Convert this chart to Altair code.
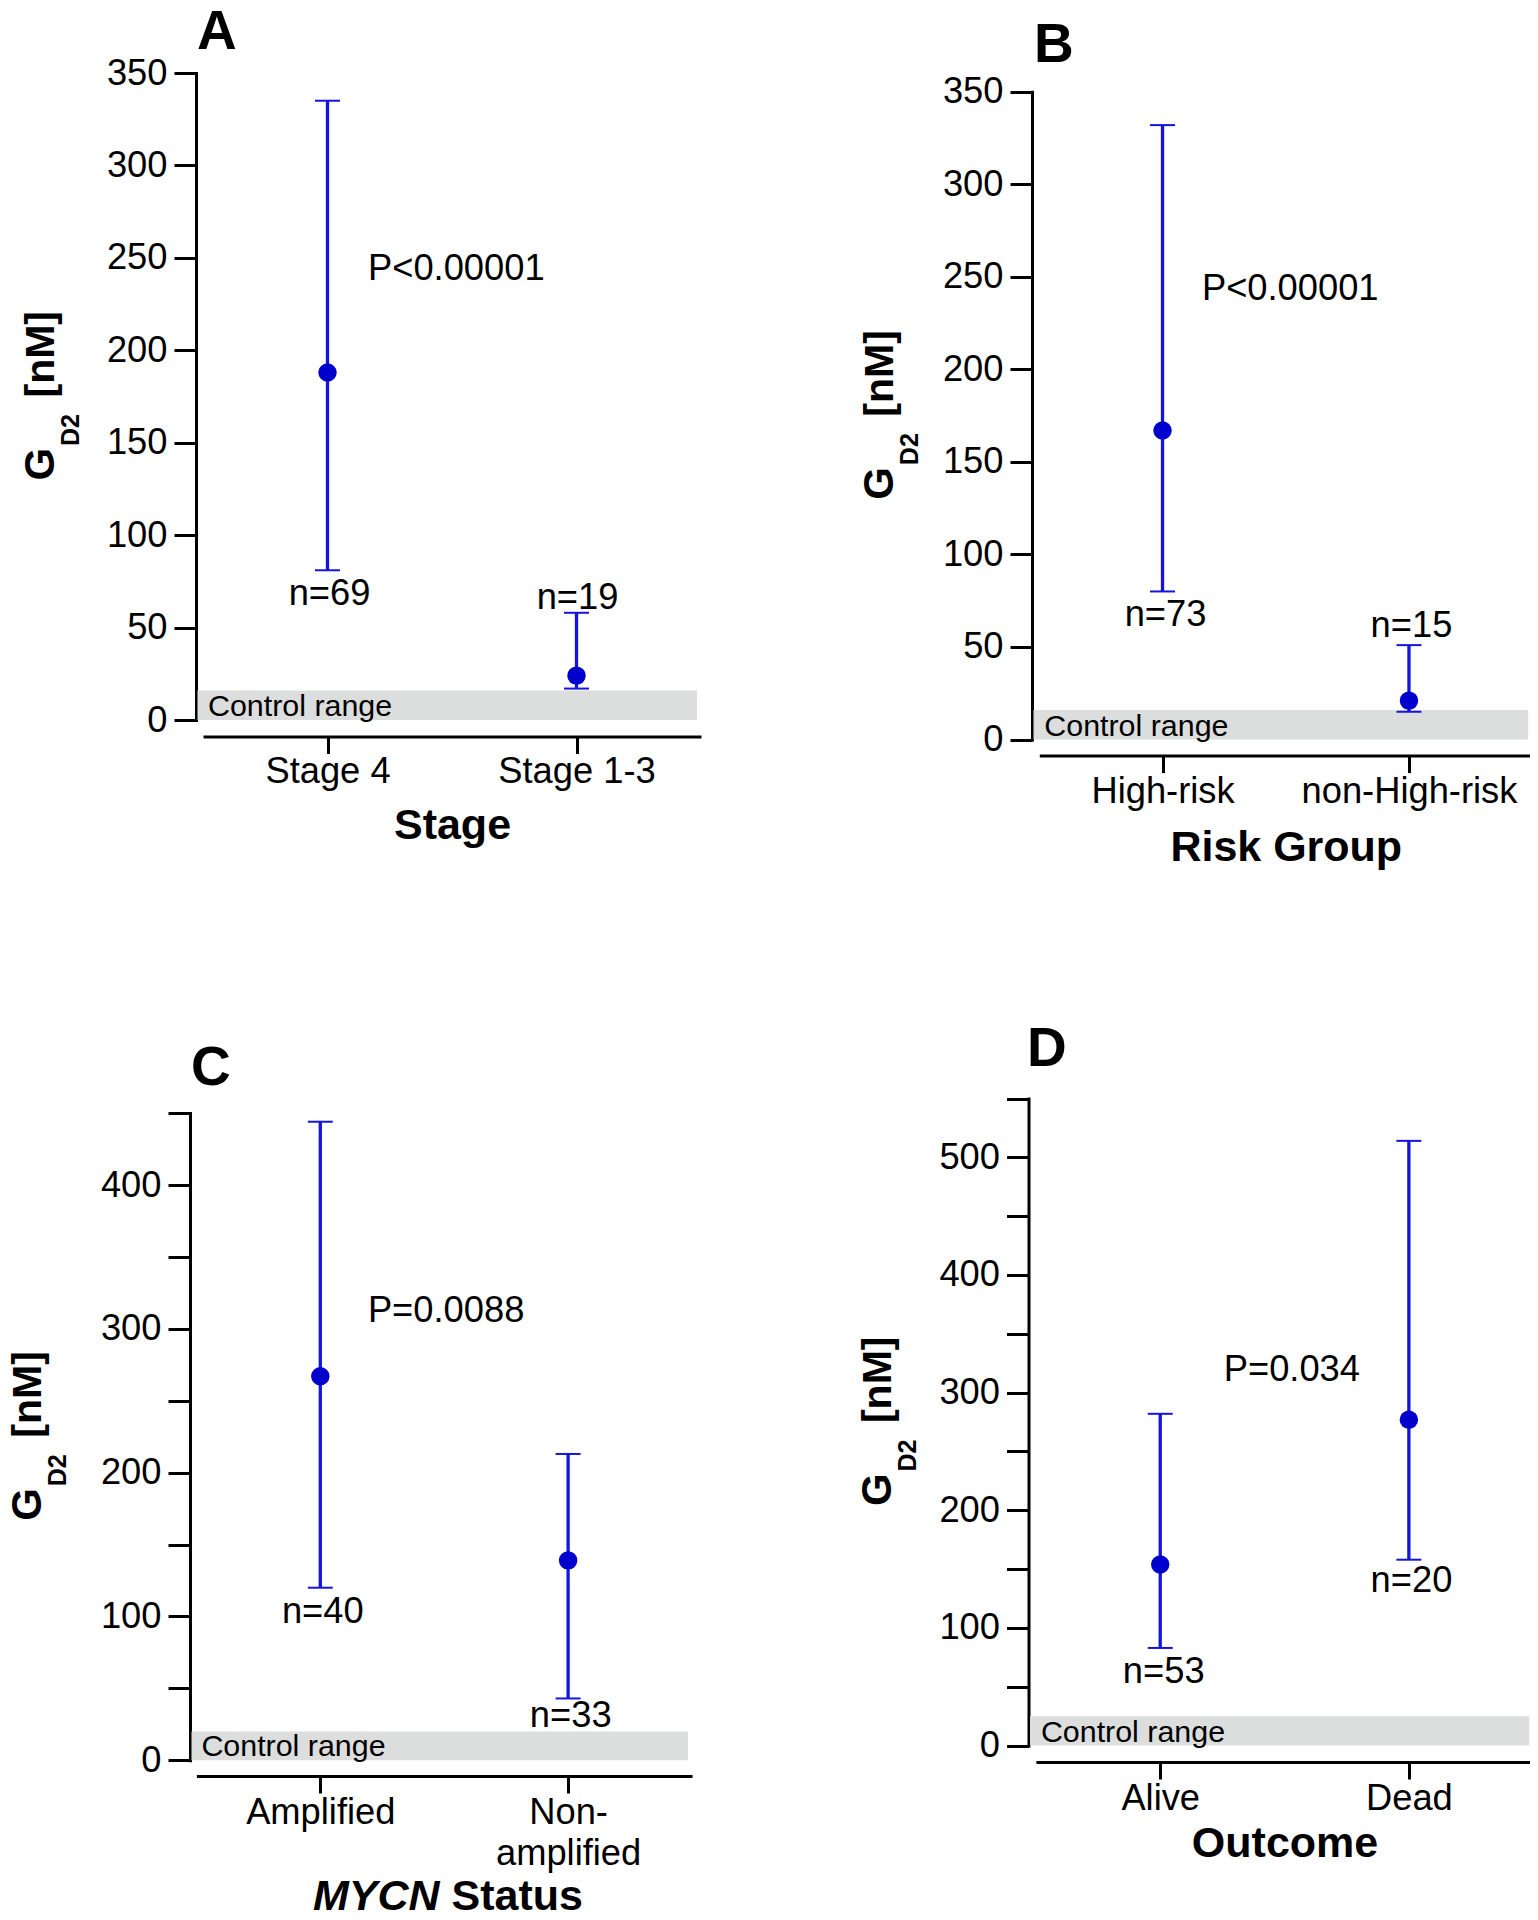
import altair as alt
import pandas as pd

FONT = "Liberation Sans"
LINE_BLUE = "#1414dc"
DOT_BLUE = "#0000cd"
BAND_GREY = "#dcdddd"

# ---------------- data ----------------
# Panel A - Stage
a_cats = ["Stage 4", "Stage 1-3"]
a_mean = [188, 24]
a_low = [81, 17]
a_high = [335, 58]
a_n = ["n=69", "n=19"]
a_n_y = [62, 60]
a_p = "P<0.00001"
a_p_y = 238
a_ctrl = 16

# Panel B - Risk group
b_cats = ["High-risk", "non-High-risk"]
b_mean = [167, 21]
b_low = [80, 15]
b_high = [332, 51]
b_n = ["n=73", "n=15"]
b_n_y = [61.6, 55.5]
b_p = "P<0.00001"
b_p_y = 237.7
b_ctrl = 16

# Panel C - MYCN status
c_cats = ["Amplified", "Non-amplified"]
c_mean = [267, 139]
c_low = [120, 43]
c_high = [444, 213]
c_n = ["n=40", "n=33"]
c_n_y = [95.8, 23.3]
c_p = "P=0.0088"
c_p_y = 305
c_ctrl = 20

# Panel D - Outcome
d_cats = ["Alive", "Dead"]
d_mean = [154, 277]
d_low = [83, 158]
d_high = [282, 514]
d_n = ["n=53", "n=20"]
d_n_y = [53.3, 130.6]
d_p = "P=0.034"
d_p_y = 310
d_ctrl = 25

# ---------------- layout (pixels) ----------------
W, H = 1522, 1904
FS = 36.3      # tick labels and annotations
TFS = 43       # axis titles

LAY = {
    "A": dict(ax=188, px0=195, px1=693, y0=712, ytop=65, xaxis=728.5, ymax=350,
              lp=0, ty=101.5, letter=(189, 41), tb=46, pdx=40.5, ndx=[2, 1]),
    "B": dict(ax=1024, px0=1031.3, px1=1524.2, y0=731.5, ytop=83.8, xaxis=747.6, ymax=350,
              lp=1, ty=105, letter=(1026, 54), tb=885.3, pdx=39.4, ndx=[3, 2.5]),
    "C": dict(ax=182, px0=188.4, px1=684, y0=1752.3, ytop=1105.1, xaxis=1768, ymax=450,
              lp=1, ty=None, letter=(183, 1077), tb=33, pdx=47.6, ndx=[2.5, 2.6]),
    "D": dict(ax=1020.5, px0=1027.9, px1=1525.2, y0=1737.6, ytop=1090.5, xaxis=1754, ymax=550,
              lp=1, ty=94.7, letter=(1019, 1057.6), tb=882.6, pdx=63.5, ndx=[3.5, 2.6]),
}


def one_row():
    return pd.DataFrame({"k": [0]})


def panel(key, cats, mean, low, high, ns, n_y, ptxt, p_y, ctrl, xtitle):
    L = LAY[key]
    df = pd.DataFrame({"cat": cats, "mean": mean, "low": low, "high": high})
    xs = alt.Scale(type="point", domain=cats, range=[L["px0"], L["px1"]], padding=0.5)
    ys = alt.Scale(domain=[0, L["ymax"]], range=[L["y0"], L["ytop"]], nice=False, zero=False)

    ylab = "datum.value % 100 === 0 ? datum.label : ''" if L["ymax"] > 400 else "datum.label"
    yaxis = alt.Axis(orient="left", offset=-L["ax"], values=list(range(0, L["ymax"] + 1, 50)),
                     labelExpr=ylab, tickSize=22, tickWidth=3, tickColor="black",
                     domainWidth=3, domainColor="black", labelFontSize=FS, labelFont=FONT,
                     labelColor="black", labelPadding=7, title=None, grid=False, domainCap="square")
    xkw = dict(orient="bottom", offset=L["xaxis"] - H, tickSize=17, tickWidth=3, tickColor="black",
               domainWidth=3, domainColor="black", labelFontSize=FS, labelFont=FONT,
               labelColor="black", labelPadding=L["lp"], labelAngle=0, grid=False,
               labelBaseline="top", labelLimit=600)
    if xtitle is None:
        xkw.update(title=None, labelLineHeight=41.6,
                   labelExpr="datum.value == 'Non-amplified' ? ['Non-', 'amplified'] : datum.label")
    else:
        xkw.update(title=xtitle, titleFontSize=TFS, titleFont=FONT, titleFontWeight="bold",
                   titleColor="black", titleY=L["ty"], titleBaseline="alphabetic")
    xaxis = alt.Axis(**xkw)

    X = alt.X("cat:N", scale=xs, axis=xaxis)
    base = alt.Chart(df)

    band_df = pd.DataFrame({"lo": [0], "hi": [ctrl]})
    band = alt.Chart(band_df).mark_rect(color=BAND_GREY).encode(
        x=alt.value(L["ax"] + 1.5), x2=alt.value(L["px1"] - 4),
        y=alt.Y("lo:Q", scale=ys, axis=yaxis), y2="hi:Q")
    band_txt = alt.Chart(band_df).mark_text(
        text="Control range", align="left", baseline="alphabetic", fontSize=30.4, font=FONT,
        color="black", dy=-4).encode(
        x=alt.value(L["px0"] + 5), y=alt.Y("lo:Q", scale=ys, axis=yaxis))

    rule = base.mark_rule(color=LINE_BLUE, strokeWidth=3.3).encode(
        x=X, y=alt.Y("low:Q", scale=ys, axis=yaxis), y2="high:Q")
    cap_lo = base.mark_tick(color=LINE_BLUE, orient="horizontal", size=25, thickness=2, opacity=1).encode(
        x=X, y=alt.Y("low:Q", scale=ys, axis=yaxis))
    cap_hi = base.mark_tick(color=LINE_BLUE, orient="horizontal", size=25, thickness=2, opacity=1).encode(
        x=X, y=alt.Y("high:Q", scale=ys, axis=yaxis))
    dots = base.mark_circle(color=DOT_BLUE, size=340, opacity=1).encode(
        x=X, y=alt.Y("mean:Q", scale=ys, axis=yaxis))

    layers = [band, band_txt, rule, cap_lo, cap_hi, dots]

    # n labels
    for i in range(2):
        ndf = pd.DataFrame({"cat": [cats[i]], "y": [n_y[i]], "t": [ns[i]]})
        layers.append(alt.Chart(ndf).mark_text(
            align="center", baseline="alphabetic", fontSize=FS, font=FONT, color="black",
            dx=L["ndx"][i]).encode(x=X, y=alt.Y("y:Q", scale=ys, axis=yaxis), text="t:N"))
    # P value
    pdf = pd.DataFrame({"cat": [cats[0]], "y": [p_y], "t": [ptxt]})
    layers.append(alt.Chart(pdf).mark_text(
        align="left", baseline="alphabetic", fontSize=FS, font=FONT, color="black",
        dx=L["pdx"]).encode(x=X, y=alt.Y("y:Q", scale=ys, axis=yaxis), text="t:N"))

    # y axis title: G_D2 [nM]
    cy = (L["y0"] + L["ytop"]) / 2
    tb = L["tb"]
    for txt, fs, xx, off in [("G", 42, tb, 84), ("D2", 25, tb + 25, 49.5), ("[nM]", 41, tb, 1)]:
        layers.append(alt.Chart(one_row()).mark_text(
            text=txt, angle=270, align="left", baseline="alphabetic", fontSize=fs, font=FONT,
            fontWeight="bold", color="black").encode(x=alt.value(xx), y=alt.value(cy + off)))

    # panel letter
    lx, ly = L["letter"]
    layers.append(alt.Chart(one_row()).mark_text(
        text=key, align="left", baseline="alphabetic", fontSize=55, font=FONT,
        fontWeight="bold", color="black").encode(x=alt.value(lx), y=alt.value(ly)))

    if xtitle is None:
        # "MYCN Status" with italic MYCN
        layers.append(alt.Chart(one_row()).mark_text(
            text="MYCN", align="right", baseline="alphabetic", fontSize=TFS, font=FONT,
            fontWeight="bold", fontStyle="italic", color="black").encode(
            x=alt.value(431.5), y=alt.value(1902)))
        layers.append(alt.Chart(one_row()).mark_text(
            text="Status", align="left", baseline="alphabetic", fontSize=TFS, font=FONT,
            fontWeight="bold", color="black").encode(
            x=alt.value(443.5), y=alt.value(1902)))

    return alt.layer(*layers)


pA = panel("A", a_cats, a_mean, a_low, a_high, a_n, a_n_y, a_p, a_p_y, a_ctrl, "Stage")
pB = panel("B", b_cats, b_mean, b_low, b_high, b_n, b_n_y, b_p, b_p_y, b_ctrl, "Risk Group")
pC = panel("C", c_cats, c_mean, c_low, c_high, c_n, c_n_y, c_p, c_p_y, c_ctrl, None)
pD = panel("D", d_cats, d_mean, d_low, d_high, d_n, d_n_y, d_p, d_p_y, d_ctrl, "Outcome")

chart = alt.layer(pA, pB, pC, pD).resolve_scale(
    x="independent", y="independent"
).resolve_axis(
    x="independent", y="independent"
).properties(
    width=W, height=H, padding=0, autosize=alt.AutoSizeParams(type="none"),
    background="white"
).configure_view(strokeWidth=0)

chart.save("out.html", embed_options={"renderer": "svg", "actions": False})
